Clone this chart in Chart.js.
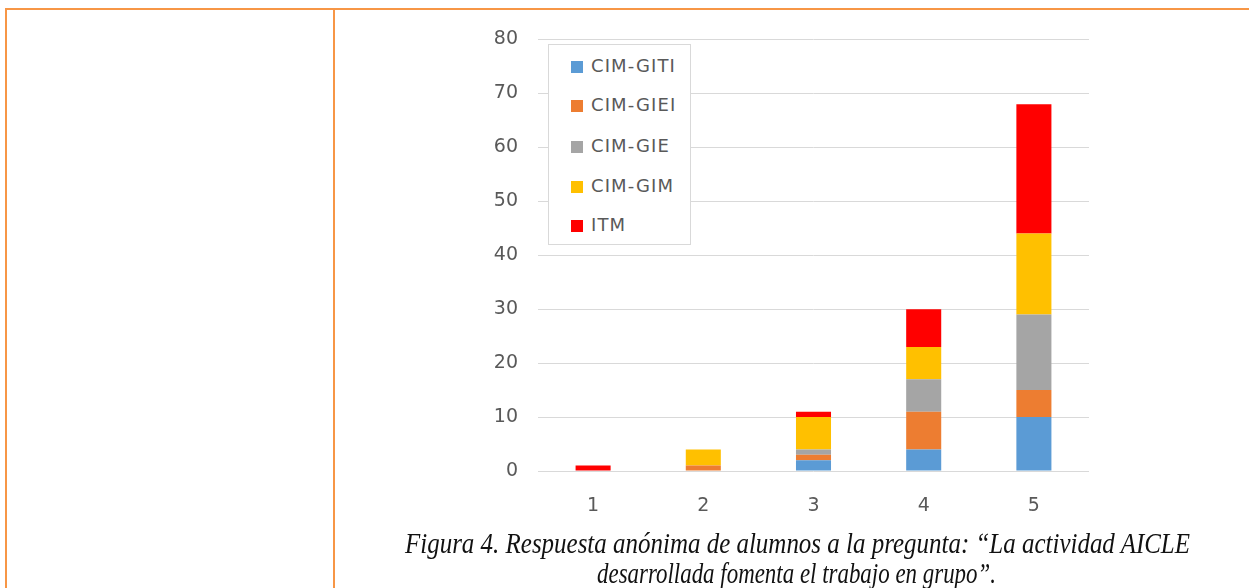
<!DOCTYPE html>
<html>
<head>
<meta charset="utf-8">
<script src="https://cdn.jsdelivr.net/npm/chart.js@4"></script>
<style>
  html, body { margin:0; padding:0; background:#fff; width:1249px; height:588px; overflow:hidden; position:relative; }
  .hline { position:absolute; left:6px; top:8px; width:1243px; height:2px; background:#F79646; }
  .vline { position:absolute; top:8px; width:2px; height:580px; background:#F79646; }
  #wrap { position:absolute; left:440px; top:8px; width:700px; height:512px; }
  #legend { position:absolute; left:548px; top:44px; width:141px; height:199px; border:1px solid #d9d9d9; background:#fff; }
  .item { position:absolute; left:22px; height:24px; font-family:"DejaVu Sans", sans-serif; font-size:18px; letter-spacing:1.1px; color:#595959; white-space:nowrap; line-height:24px; }
  .sw { display:inline-block; width:12px; height:12px; margin-right:8px; vertical-align:-1px; }
  #caption { position:absolute; left:0; top:0; width:1249px; height:588px; font-family:"Liberation Serif", serif; font-style:italic; font-size:30px; color:#111; line-height:30px; }
  #caption div { position:absolute; white-space:nowrap; transform-origin:0 0; }
</style>
</head>
<body>
<div class="hline"></div>
<div class="vline" style="left:5px"></div>
<div class="vline" style="left:333px"></div>
<div id="wrap"><canvas id="c" width="700" height="512"></canvas></div>
<div id="legend"></div>
<div id="caption"><div id="l1">Figura 4. Respuesta anónima de alumnos a la pregunta: “La actividad AICLE</div><div id="l2">desarrollada fomenta el trabajo en grupo”.</div></div>
<script>
const categories = ['1', '2', '3', '4', '5'];
const seriesNames = ['CIM-GITI', 'CIM-GIEI', 'CIM-GIE', 'CIM-GIM', 'ITM'];
const seriesColors = ['#5B9BD5', '#ED7D31', '#A5A5A5', '#FFC000', '#FF0000'];
const cimGiti = [0, 0, 2, 4, 10];
const cimGiei = [0, 1, 1, 7, 5];
const cimGie  = [0, 0, 1, 6, 14];
const cimGim  = [0, 3, 6, 6, 15];
const itm     = [1, 0, 1, 7, 24];
const yTicks = [0, 10, 20, 30, 40, 50, 60, 70, 80];
const seriesValues = [cimGiti, cimGiei, cimGie, cimGim, itm];

const datasets = seriesNames.map((n, i) => ({
  label: n,
  data: seriesValues[i],
  backgroundColor: seriesColors[i],
  borderWidth: 0,
  barPercentage: 0.318,
  categoryPercentage: 1.0
}));

new Chart(document.getElementById('c'), {
  type: 'bar',
  data: { labels: categories, datasets },
  options: {
    responsive: false,
    animation: false,
    layout: { padding: { top: 0, right: 51, bottom: 0, left: 0 } },
    plugins: { legend: { display: false }, tooltip: { enabled: false } },
    scales: {
      x: {
        stacked: true,
        grid: { display: false, drawTicks: false },
        border: { display: false },
        ticks: { color: '#595959', font: { family: 'DejaVu Sans', size: 19 }, padding: 24 },
        afterFit: s => { s.height = 49; }
      },
      y: {
        stacked: true,
        min: 0, max: 80,
        afterBuildTicks: s => { s.ticks = yTicks.map(v => ({ value: v })); },
        grid: { color: '#d9d9d9', lineWidth: 1, drawTicks: false },
        border: { display: false },
        ticks: { color: '#595959', font: { family: 'DejaVu Sans', size: 19 }, padding: 20 },
        afterFit: s => { s.width = 98; }
      }
    }
  }
});

const lg = document.getElementById('legend');
const rowTops = [9, 48, 89, 129, 168];
seriesNames.forEach((n, i) => {
  const d = document.createElement('div');
  d.className = 'item';
  d.style.top = rowTops[i] + 'px';
  d.innerHTML = '<span class="sw" style="background:' + seriesColors[i] + '"></span>' + n;
  lg.appendChild(d);
});

function fit(el, left, right, top) {
  const w = el.getBoundingClientRect().width;
  const sx = (right - left) / w;
  el.style.left = left + 'px';
  el.style.top = top + 'px';
  el.style.transform = 'scaleX(' + sx + ')';
}
fit(document.getElementById('l1'), 405, 1190, 528);
fit(document.getElementById('l2'), 597, 996, 558);
</script>
</body>
</html>
